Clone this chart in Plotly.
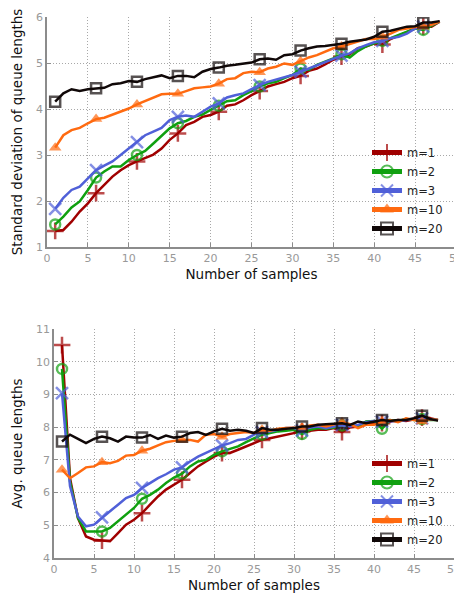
import plotly.graph_objects as go

samples = list(range(1, 49))
labels = ["m=1", "m=2", "m=3", "m=10", "m=20"]

std_m1 = [1.35, 1.37, 1.55, 1.77, 1.95, 2.17, 2.35, 2.53, 2.67, 2.78,
          2.86, 2.93, 3.01, 3.14, 3.33, 3.47, 3.65, 3.72, 3.83, 3.87,
          3.94, 4.07, 4.10, 4.19, 4.30, 4.39, 4.49, 4.54, 4.59, 4.67,
          4.72, 4.83, 4.88, 4.97, 5.07, 5.14, 5.19, 5.32, 5.36, 5.43,
          5.40, 5.52, 5.59, 5.67, 5.75, 5.79, 5.79, 5.90]
std_m2 = [1.49, 1.66, 1.86, 1.99, 2.24, 2.51, 2.64, 2.75, 2.75, 2.89,
          3.00, 3.09, 3.25, 3.42, 3.58, 3.69, 3.74, 3.83, 3.88, 3.98,
          4.07, 4.17, 4.19, 4.30, 4.39, 4.49, 4.56, 4.59, 4.67, 4.74,
          4.88, 4.85, 4.96, 5.03, 5.10, 5.19, 5.12, 5.26, 5.36, 5.43,
          5.48, 5.54, 5.61, 5.68, 5.75, 5.72, 5.81, 5.90]
std_m3 = [1.83, 2.07, 2.24, 2.31, 2.49, 2.67, 2.77, 2.86, 3.00, 3.14,
          3.28, 3.43, 3.51, 3.59, 3.76, 3.83, 3.86, 3.83, 3.94, 4.05,
          4.12, 4.25, 4.30, 4.34, 4.43, 4.52, 4.59, 4.64, 4.70, 4.74,
          4.81, 4.88, 4.96, 5.03, 5.10, 5.16, 5.21, 5.32, 5.39, 5.45,
          5.48, 5.54, 5.57, 5.64, 5.75, 5.79, 5.83, 5.90]
std_m10 = [3.16, 3.43, 3.54, 3.59, 3.69, 3.78, 3.81, 3.88, 3.94, 4.01,
           4.10, 4.17, 4.25, 4.32, 4.33, 4.33, 4.39, 4.45, 4.47, 4.49,
           4.55, 4.65, 4.67, 4.78, 4.81, 4.80, 4.88, 4.92, 4.99, 4.96,
           5.04, 5.12, 5.17, 5.25, 5.32, 5.36, 5.41, 5.46, 5.52, 5.52,
           5.57, 5.64, 5.72, 5.75, 5.78, 5.79, 5.83, 5.90]
std_m20 = [4.16, 4.34, 4.43, 4.39, 4.43, 4.45, 4.46, 4.54, 4.56, 4.61,
           4.59, 4.65, 4.69, 4.73, 4.67, 4.72, 4.72, 4.69, 4.81, 4.87,
           4.90, 4.94, 4.96, 4.99, 5.01, 5.08, 5.10, 5.07, 5.17, 5.19,
           5.27, 5.32, 5.36, 5.37, 5.39, 5.42, 5.46, 5.48, 5.51, 5.57,
           5.68, 5.70, 5.74, 5.79, 5.80, 5.88, 5.88, 5.91]

avg_m1 = [10.51, 6.44, 5.22, 4.66, 4.56, 4.53, 4.51, 4.76, 5.02, 5.17,
          5.37, 5.63, 5.88, 6.09, 6.24, 6.39, 6.60, 6.80, 6.95, 7.10,
          7.21, 7.21, 7.31, 7.41, 7.51, 7.61, 7.66, 7.71, 7.77, 7.82,
          7.87, 7.89, 7.92, 7.92, 7.97, 7.85, 7.99, 8.02, 8.09, 8.12,
          8.12, 8.17, 8.22, 8.19, 8.25, 8.29, 8.27, 8.22]
avg_m2 = [9.78, 6.34, 5.22, 4.81, 4.81, 4.81, 4.92, 5.12, 5.32, 5.53,
          5.81, 5.93, 6.09, 6.29, 6.46, 6.58, 6.80, 6.95, 7.00, 7.15,
          7.26, 7.34, 7.41, 7.54, 7.66, 7.77, 7.82, 7.87, 7.89, 7.92,
          7.79, 7.92, 7.97, 7.95, 7.99, 8.05, 8.07, 8.02, 8.17, 8.19,
          7.95, 8.22, 8.19, 8.25, 8.22, 8.25, 8.22, 8.22]
avg_m3 = [9.04, 6.20, 5.27, 4.97, 5.02, 5.24, 5.43, 5.63, 5.83, 5.93,
          6.14, 6.29, 6.44, 6.56, 6.70, 6.77, 6.95, 7.10, 7.21, 7.31,
          7.44, 7.51, 7.61, 7.64, 7.77, 7.85, 7.87, 7.92, 7.97, 7.97,
          7.89, 7.99, 8.02, 7.97, 8.02, 8.07, 8.02, 8.07, 8.15, 8.19,
          8.17, 8.19, 8.17, 8.22, 8.24, 8.27, 8.24, 8.22]
avg_m10 = [6.70, 6.44, 6.60, 6.77, 6.80, 6.93, 6.90, 6.97, 7.13, 7.15,
           7.28, 7.34, 7.44, 7.54, 7.58, 7.61, 7.61, 7.56, 7.77, 7.79,
           7.71, 7.79, 7.82, 7.85, 7.82, 7.92, 7.89, 7.95, 7.97, 7.99,
           7.99, 8.05, 8.07, 8.02, 8.09, 8.15, 8.09, 7.97, 8.07, 8.07,
           8.17, 8.22, 8.15, 8.27, 8.22, 8.17, 8.25, 8.22]
avg_m20 = [7.56, 7.77, 7.64, 7.51, 7.64, 7.71, 7.66, 7.56, 7.71, 7.68,
           7.68, 7.76, 7.64, 7.74, 7.68, 7.71, 7.82, 7.85, 7.76, 7.87,
           7.95, 7.89, 7.92, 7.89, 7.82, 7.97, 7.92, 7.92, 7.95, 7.97,
           8.02, 8.02, 8.07, 8.09, 8.12, 8.12, 8.07, 8.17, 8.12, 8.17,
           8.22, 8.19, 8.22, 8.22, 8.27, 8.35, 8.25, 8.20]

std_series = [std_m1, std_m2, std_m3, std_m10, std_m20]
avg_series = [avg_m1, avg_m2, avg_m3, avg_m10, avg_m20]

colors = ["#a00000", "#10a010", "#5060d8", "#ff6a10", "#100808"]
symbols = ["cross-thin-open", "circle-open", "x-thin-open", "triangle-up", "square-open"]
msizes = [12, 10, 12, 11, 10]

# the page body adds an 8 px offset; figure is sized so it fits the window
OFF = 8
W, H = 462 - OFF, 600 - OFF
FONT = "DejaVu Sans"


def fx(px):
    return (px - OFF) / W


def fy(py):
    return 1 - (py - OFF) / H


fig = go.Figure()

for row, series in enumerate([std_series, avg_series]):
    xa = "x" if row == 0 else "x2"
    ya = "y" if row == 0 else "y2"
    leg = "legend" if row == 0 else "legend2"
    for i, vals in enumerate(series):
        sizes = [msizes[i] if (s - 1) % 5 == 0 else 0 for s in samples]
        filled = symbols[i] == "triangle-up"
        fig.add_trace(go.Scatter(
            x=samples, y=vals, name=labels[i], mode="lines+markers",
            xaxis=xa, yaxis=ya, legend=leg,
            line=dict(color=colors[i], width=2.5),
            marker=dict(symbol=symbols[i], size=sizes, color=colors[i],
                        line=dict(color=colors[i], width=0 if filled else 2.5)),
        ))

axis_common = dict(
    showline=True, linecolor="#8c8c8c", linewidth=1.5,
    ticks="inside", ticklen=4, tickcolor="#8c8c8c", tickwidth=1,
    showgrid=True, gridcolor="#a8a8a8", gridwidth=1, griddash="1px,2px",
    zeroline=False, mirror=False,
    tickfont=dict(family=FONT, size=11, color="#999999"),
    title_font=dict(family=FONT, size=13.5, color="#111111"),
    automargin=False, ticklabeloverflow="allow",
)

legend_common = dict(
    xanchor="right", yanchor="bottom", bgcolor="rgba(0,0,0,0)",
    font=dict(family=FONT, size=11.5, color="#222222"),
    itemsizing="constant", tracegroupgap=0,
)

fig.update_layout(
    width=W, height=H, autosize=False,
    margin=dict(l=0, r=0, t=0, b=0),
    paper_bgcolor="white", plot_bgcolor="white",
    font=dict(family=FONT),
    xaxis=dict(domain=[fx(47), fx(456)], range=[0, 50], dtick=5, anchor="y",
               title=dict(text="Number of samples", standoff=6), **axis_common),
    yaxis=dict(domain=[fy(247), fy(17)], range=[1, 6], dtick=1, anchor="x",
               title=dict(text="Standard deviation of queue lengths", standoff=10), **axis_common),
    xaxis2=dict(domain=[fx(54), fx(454)], range=[0, 50], dtick=5, anchor="y2",
                title=dict(text="Number of samples", standoff=6), **axis_common),
    yaxis2=dict(domain=[fy(558), fy(329)], range=[4, 11], dtick=1, anchor="x2",
                title=dict(text="Avg. queue lengths", standoff=10), **axis_common),
    legend=dict(x=fx(448), y=fy(243), **legend_common),
    legend2=dict(x=fx(448), y=fy(554), **legend_common),
)

fig.write_html("out.html")
